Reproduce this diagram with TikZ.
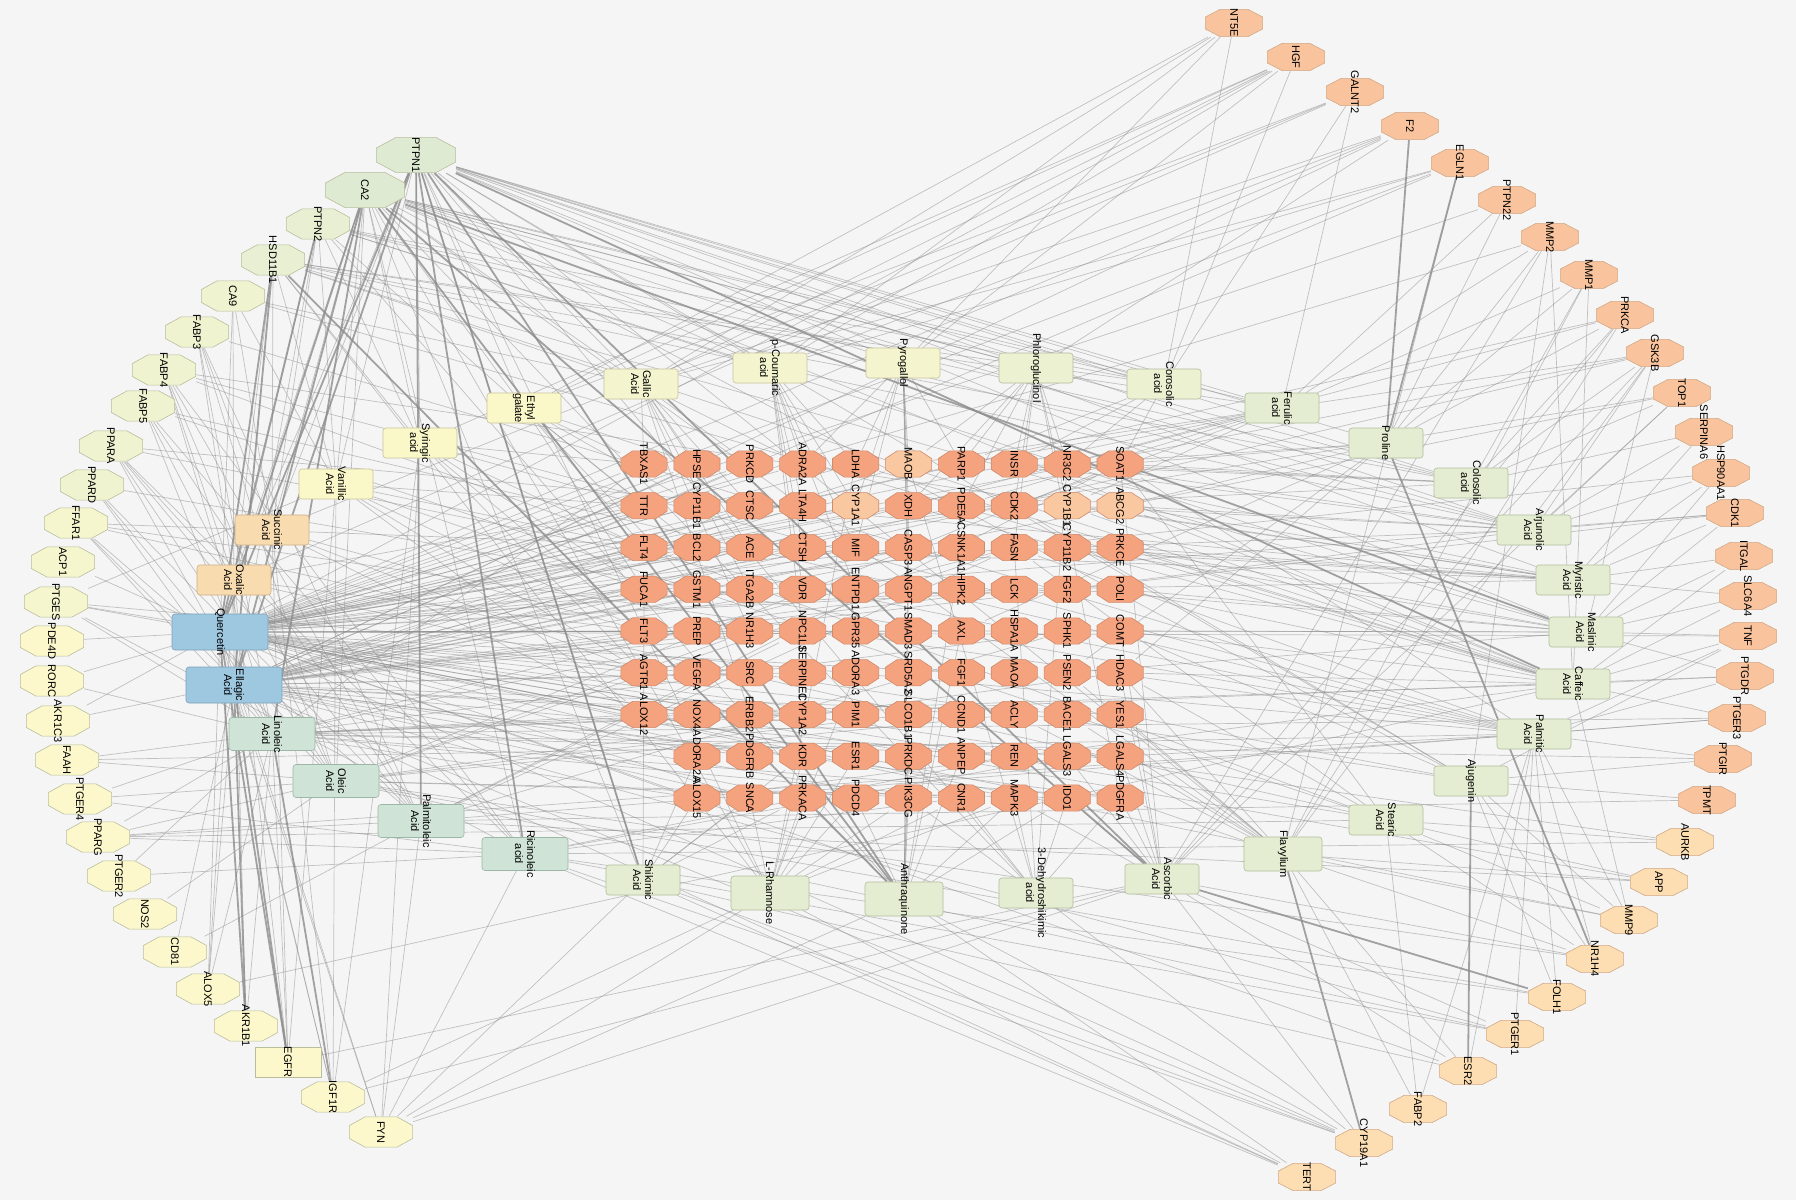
\documentclass[tikz,border=0pt]{standalone}
\usepackage{fontspec}
\setmainfont{Liberation Sans}
\pgfdeclarelayer{back}
\pgfdeclarelayer{bg}
\pgfsetlayers{back,bg,main}
\definecolor{bgc}{HTML}{F5F5F5}
\definecolor{tg}{HTML}{F5A27F}
\definecolor{tgd}{HTML}{CF8B6B}
\definecolor{tgl}{HTML}{F9C8A0}
\definecolor{ra}{HTML}{F9C49D}
\definecolor{rb}{HTML}{FCDEB2}
\definecolor{rd}{HTML}{D2A887}
\definecolor{lgA}{HTML}{DFEAD2}
\definecolor{lgB}{HTML}{E8EFD2}
\definecolor{lgC}{HTML}{EFF3D0}
\definecolor{lgD}{HTML}{F5F6CE}
\definecolor{lgE}{HTML}{FCF8CB}
\definecolor{lgd}{HTML}{B9BE9C}
\definecolor{cb}{HTML}{9EC7E0}
\definecolor{cbd}{HTML}{7EA2BB}
\definecolor{cm}{HTML}{CFE3D6}
\definecolor{cmd}{HTML}{9CB7A7}
\definecolor{cg}{HTML}{E4EDD1}
\definecolor{cgd}{HTML}{B1BD9D}
\definecolor{cg2}{HTML}{ECF1D2}
\definecolor{cy2}{HTML}{F4F5CF}
\definecolor{cy}{HTML}{FAF7C9}
\definecolor{cyd}{HTML}{C8C49C}
\definecolor{co}{HTML}{F8DBAF}
\definecolor{cod}{HTML}{CDAE86}
\definecolor{edgec}{HTML}{8C8C8C}
\newcommand\octpath[2]{([xshift=#1,yshift=-0.4pt]path picture bounding box.north west) -- ([xshift=-#1,yshift=-0.4pt]path picture bounding box.north east) -- ([xshift=-0.4pt,yshift=-#2]path picture bounding box.north east) -- ([xshift=-0.4pt,yshift=#2]path picture bounding box.south east) -- ([xshift=-#1,yshift=0.4pt]path picture bounding box.south east) -- ([xshift=#1,yshift=0.4pt]path picture bounding box.south west) -- ([xshift=0.4pt,yshift=#2]path picture bounding box.south west) -- ([xshift=0.4pt,yshift=-#2]path picture bounding box.north west) -- cycle}
\tikzset{
  ofill/.code={\def\ofc{#1}}, odraw/.code={\def\odc{#1}},
  ocx/.code={\def\ocxv{#1}}, ocy/.code={\def\ocyv{#1}},
  oct/.style={rectangle, inner sep=0pt, draw=none,
    path picture={\path[fill=\ofc, draw=\odc, line width=0.6pt] \octpath{\ocxv}{\ocyv};}},
  gnode/.style={oct, minimum width=47pt, minimum height=27pt, ofill=tg, odraw=tgd, ocx=12pt, ocy=8pt},
  hl MAOB/.style={ofill=tgl}, hl CYP1A1/.style={ofill=tgl}, hl CYP1B1/.style={ofill=tgl}, hl ABCG2/.style={ofill=tgl},
  lnode/.style={oct, minimum width=64pt, minimum height=31pt, odraw=lgd, ocx=16pt, ocy=9pt},
  bignode/.style={oct, minimum width=80pt, minimum height=36pt, odraw=lgd, ocx=20pt, ocy=11pt},
  rectnode/.style={rectangle, minimum width=66pt, minimum height=30pt, inner sep=0pt, draw=lgd, line width=0.6pt},
  rnode/.style={oct, minimum width=58pt, minimum height=28pt, odraw=rd, ocx=15pt, ocy=8pt},
  lbl/.style={rotate=-90, inner sep=0pt, text=black, font=\fontsize{11}{12}\selectfont},
  clbl/.style={lbl, align=center},
  comp/.style={rectangle, rounded corners=3pt, minimum width=74pt, minimum height=30pt, inner sep=0pt, line width=0.6pt},
  cB/.style={comp, fill=cb, draw=cbd, minimum width=96pt, minimum height=36pt},
  cM/.style={comp, fill=cm, draw=cmd, minimum width=86pt, minimum height=33pt},
  cG/.style={comp, fill=cg, draw=cgd},
  cGb/.style={cG, minimum width=78pt, minimum height=34pt},
  cG2/.style={comp, fill=cg2, draw=cgd},
  cY2/.style={comp, fill=cy2, draw=cyd},
  cY/.style={comp, fill=cy, draw=cyd},
  cO/.style={comp, fill=co, draw=cod},
  edge/.style={draw=edgec, line width=0.7pt, opacity=0.5},
  edgeT/.style={draw=edgec, line width=1.8pt, opacity=0.8},
}
\begin{document}
\begin{tikzpicture}[x=1pt,y=-1pt]
\useasboundingbox (0,0) rectangle (1796,1200);
\begin{pgfonlayer}{back}
\fill[bgc] (0,0) rectangle (1796,1200);
\end{pgfonlayer}
% ---------- target grid ----------
\foreach \row [count=\j from 0] in {
 {TBXAS1,HPSE,PRKCD,ADRA2A,LDHA,MAOB,PARP1,INSR,NR3C2,SOAT1},
 {TTR,CYP11B1,CTSC,LTA4H,CYP1A1,XDH,PDE5A,CDK2,CYP1B1,ABCG2},
 {FLT4,BCL2,ACE,CTSH,MIF,CASP3,CSNK1A1,FASN,CYP11B2,PRKCE},
 {FUCA1,GSTM1,ITGA2B,VDR,ENTPD1,ANGPT1,HIPK2,LCK,FGF2,POLI},
 {FLT3,PREP,NR1H3,NPC1L1,GPR35,SMAD3,AXL,HSPA1A,SPHK1,COMT},
 {AGTR1,VEGFA,SRC,SERPINE1,ADORA3,SRD5A2,FGF1,MAOA,PSEN2,HDAC3},
 {ALOX12,NOX4,ERBB2,CYP1A2,PIM1,SLCO1B1,CCND1,ACLY,BACE1,YES1}}{
  \foreach \g [count=\i from 0] in \row {
    \node[gnode, hl \g/.try, label={[lbl]center:\g}] (\g) at ({644+52.9*\i},{464+41.75*\j}) {};
  }
}
\foreach \row [count=\j from 7] in {
 {ADORA2A,PDGFRB,KDR,ESR1,PRKDC,ANPEP,REN,LGALS3,LGALS4},
 {ALOX15,SNCA,PRKACA,PDCD4,PIK3CG,CNR1,MAPK3,IDO1,PDGFRA}}{
  \foreach \g [count=\i from 1] in \row {
    \node[gnode, label={[lbl]center:\g}] (\g) at ({644+52.9*\i},{464+41.75*\j}) {};
  }
}
% ---------- left ring ----------
\node[bignode, ofill=lgA, label={[lbl]center:PTPN1}] (PTPN1) at (416,155) {};
\node[bignode, ofill=lgA, label={[lbl]center:CA2}] (CA2) at (365,190) {};
\foreach \n/\x/\y/\c in {PTPN2/318/224/lgB, HSD11B1/273/260/lgB, CA9/233/296/lgC,
  FABP3/197/332/lgC, FABP4/164/370/lgC, FABP5/143/406/lgC, PPARA/111/446/lgC,
  PPARD/92/485/lgC, FFAR1/76/523/lgD, ACP1/63/562/lgD, PTGES/56/602/lgD,
  PDE4D/52/641/lgE, RORC/52/681/lgE, AKR1C3/58/721/lgE, FAAH/67/760/lgE,
  PTGER4/80/799/lgE, PPARG/98/837/lgE, PTGER2/119/876/lgE, NOS2/145/914/lgE,
  CD81/175/952/lgE, ALOX5/208/989/lgE, AKR1B1/246/1026/lgE, IGF1R/333/1097/lgE,
  FYN/381/1132/lgE}{
  \node[lnode, ofill=\c, label={[lbl]center:\n}] (\n) at (\x,\y) {};
}
\node[rectnode, fill=lgE, label={[lbl]center:EGFR}] (EGFR) at (288,1062) {};
% ---------- right ring ----------
\foreach \n/\x/\y/\c in {NT5E/1234/23/ra, HGF/1296/57/ra, GALNT2/1355/92/ra,
  F2/1410/126/ra, EGLN1/1460/163/ra, PTPN22/1507/200/ra, MMP2/1550/237/ra,
  MMP1/1589/275/ra, PRKCA/1625/315/ra, GSK3B/1655/353/ra, TOP1/1682/393/ra,
  SERPINA6/1704/432/ra, HSP90AA1/1721/473/ra, CDK1/1735/513/ra, ITGAL/1744/556/ra,
  SLC6A4/1748/596/ra, TNF/1748/636/ra, PTGDR/1745/676/ra, PTGER3/1737/718/ra,
  PTGIR/1723/759/ra, TPMT/1707/800/ra, AURKB/1685/842/rb, APP/1659/882/rb,
  MMP9/1629/920/rb, NR1H4/1595/959/rb, FOLH1/1557/997/rb, PTGER1/1515/1034/rb,
  ESR2/1468/1071/rb, FABP2/1418/1109/rb, CYP19A1/1364/1143/rb, TERT/1307/1177/rb}{
  \node[rnode, ofill=\c, label={[lbl]center:\n}] (\n) at (\x,\y) {};
}
% ---------- compounds ----------
\foreach \n/\x/\y/\st/\tx in {
  quer/220/632/cB/Quercetin, ella/234/685/cB/{Ellagic\\Acid},
  lino/272/734/cM/{Linoleic\\Acid}, olei/336/781/cM/{Oleic\\Acid},
  palo/421/821/cM/{Palmitoleic\\Acid}, rici/525/854/cM/{Ricinoleic\\acid},
  shik/643/880/cG/{Shikimic\\Acid}, rham/770/893/cGb/L-Rhamnose,
  anth/904/899/cGb/Anthraquinone, dehy/1036/893/cG/{3-Dehydroshikimic\\acid},
  asco/1162/879/cG/{Ascorbic\\Acid}, flav/1283/854/cGb/Flavylium,
  stea/1386/820/cG/{Stearic\\Acid}, ajug/1471/781/cG/Ajugenin,
  palm/1534/734/cG/{Palmitic\\Acid}, caff/1573/684/cG/{Caffeic\\Acid},
  masl/1586/632/cG/{Maslinic\\Acid}, myri/1573/580/cG/{Myristic\\Acid},
  arju/1534/530/cG/{Arjunolic\\Acid}, colo/1471/483/cG/{Colosolic\\acid},
  prol/1386/443/cG/Proline, feru/1282/408/cG/{Ferulic\\acid},
  coro/1164/384/cG2/{Corosolic\\acid}, phlo/1036/368/cG2/Phloroglucinol,
  pyro/903/363/cY2/Pyrogallol, couma/770/368/cY2/{p-Coumaric\\acid},
  gall/641/384/cY2/{Gallic\\Acid}, ethy/524/408/cY/{Ethyl\\galate},
  syri/420/443/cY/{Syringic\\acid}, vani/336/484/cY/{Vanillic\\Acid},
  succ/272/530/cO/{Succinic\\Acid}, oxal/234/580/cO/{Oxalic\\Acid}}{
  \node[\st, label={[clbl]center:{\tx}}] (\n) at (\x,\y) {};
}
% ---------- edges ----------
\begin{pgfonlayer}{bg}
\foreach \s/\ts in {
 quer/{TBXAS1,HPSE,PRKCD,ADRA2A,LDHA,TTR,CYP11B1,CTSC,FLT4,BCL2,ACE,FUCA1,GSTM1,ITGA2B,FLT3,PREP,AGTR1,VEGFA,SRC,ALOX12,NOX4,ERBB2,ADORA2A,PDGFRB,ALOX15,SNCA,CYP1A1,XDH,CASP3,MIF,ESR1,PIM1,CDK2,INSR,PARP1,SOAT1,HSPA1A,MAPK3,IDO1,AXL,LCK,FGF2,FGF1,CCND1,CA9,ACP1,PTGES,PDE4D,RORC,AKR1C3,ALOX5,IGF1R,FYN,F2,PTPN22,HGF,GSK3B,CDK1,TOP1,HSP90AA1,MMP2,MMP9,APP,AURKB,CYP19A1,ESR2,TNF,PRKCA,EGLN1},
 ella/{PRKCD,HPSE,CTSC,LTA4H,ACE,CTSH,BCL2,ITGA2B,VDR,NPC1L1,PREP,NR1H3,SRC,SERPINE1,ERBB2,CYP1A2,PDGFRB,KDR,PRKACA,SNCA,CASP3,MAOB,MIF,LCK,PDE5A,CSNK1A1,HIPK2,PIK3CG,REN,PDGFRA,YES1,PTPN2,CA9,IGF1R,ALOX5,FYN,CD81,EGLN1,F2,CDK1,GSK3B,PRKCA,TOP1,TERT,CYP19A1,PTGER1,AKR1C3},
 lino/{PTGES,FFAR1,PPARA,PPARD,PPARG,FABP3,FABP4,FABP5,ALOX5,PTGER2,PTGER4,FAAH,RORC,ALOX15,ALOX12,NOX4,CNR1,NR1H3,SPHK1,PDGFRA,LGALS4,TBXAS1,CYP1A2,FASN,PTGIR,PTGDR,PTGER3,AKR1B1,EGFR},
 olei/{FFAR1,PPARA,PPARD,PPARG,FABP3,FABP4,FABP5,PTGER4,FAAH,NOS2,CNR1,SOAT1,FASN,ACLY,NR1H3,SLCO1B1,HDAC3,IDO1,PTGER1,FOLH1,NR1H4,CA2},
 palo/{FABP3,FABP4,FABP5,PPARA,PPARD,PPARG,FFAR1,CD81,FYN,FASN,SPHK1,SOAT1,NPC1L1,TPMT,PTGER3,APP},
 rici/{FABP4,FABP5,PPARA,PPARG,PTGER2,PTGER4,PTGES,FYN,CNR1,REN,LGALS3,CYP19A1,TERT,FOLH1,PTGER1,AURKB,CA2},
 shik/{PTPN1,CA2,FUCA1,ALOX15,SNCA,PRKACA,ADORA2A,KDR,FYN,CYP19A1,ESR2,TERT},
 rham/{PTPN1,HSD11B1,SNCA,PRKACA,KDR,PDCD4,ESR1,CNR1,MAPK3,PIK3CG,ADORA3,LDHA,FYN,TERT,IGF1R,CA2},
 anth/{PTPN2,PRKACA,PDCD4,PIK3CG,PRKDC,MAPK3,ANPEP,IDO1,CASP3,AXL,CSNK1A1,SLCO1B1,XDH,CYP19A1,FYN,TERT},
 dehy/{PTPN1,PIK3CG,CNR1,MAPK3,IDO1,PDGFRA,NR3C2,FASN,CYP19A1,MAOB,CA2},
 asco/{IDO1,MAPK3,PDGFRA,LGALS4,LGALS3,HDAC3,COMT,SOAT1,PRKCA,GSK3B,MMP2,TOP1,NR1H4,PTGER1,ESR2,EGFR,FYN,CYP19A1,IGF1R},
 flav/{CA2,PTPN1,YES1,LGALS4,PDGFRA,HDAC3,BACE1,ACLY,PSEN2,EGLN1,MMP1,PRKCA,GSK3B,ESR2,FABP2,NR1H4,MMP9,APP},
 stea/{FFAR1,PPARG,FABP4,FABP5,FABP2,NR1H4,MMP9,APP,AURKB,SOAT1,FASN,HDAC3,PTGES},
 ajug/{PTPN1,MMP2,MMP9,FOLH1,TPMT,PTGIR,NR1H4,TNF,SRC,CDK2,COMT,YES1,CA2},
 palm/{FABP3,FABP4,FABP5,PPARA,PPARD,PPARG,FFAR1,PTGES,FAAH,NR1H4,FOLH1,MMP9,PTGER1,ESR2,FABP2,TNF,PTGDR,PTGIR,PTGER3,SOAT1,FASN,LGALS4},
 caff/{CA2,HSD11B1,ALOX5,ALOX12,ALOX15,TNF,PTGDR,PTGER3,ITGAL,SLC6A4,MMP9,MMP2,MMP1,PRKCE,POLI,COMT,HDAC3,CYP1B1,ABCG2,XDH,LDHA,CA9},
 masl/{PTPN1,SLC6A4,ITGAL,CDK1,HSP90AA1,PRKCE,POLI,COMT,CYP11B2,FGF2,SPHK1,PSEN2,TNF,PTGDR,HSD11B1,GSK3B,PTPN2},
 myri/{CDK1,HSP90AA1,SERPINA6,ITGAL,SLC6A4,CYP11B2,PRKCE,ABCG2,CYP1B1,FASN,LCK,INSR,FFAR1,PPARA,FABP4,PTPN1},
 arju/{PTPN1,CA2,CDK1,HSP90AA1,SERPINA6,TOP1,GSK3B,NR3C2,CYP1B1,ABCG2,CYP11B2,FGF2,INSR,HSD11B1,PTPN2},
 colo/{PTPN1,SERPINA6,TOP1,GSK3B,PRKCA,NR3C2,SOAT1,INSR,CDK2,HSD11B1,PTPN2,CA2,MMP1},
 prol/{PTPN22,MMP2,MMP1,PRKCA,NR3C2,SOAT1,ABCG2,PSEN2,AXL,HDAC3,PTPN1},
 feru/{PTPN1,CA2,GALNT2,PTPN22,MMP2,MMP1,GSK3B,NR3C2,CYP1B1,INSR,PARP1,PDE5A,CDK2,MAOB,HSD11B1},
 coro/{PTPN1,PTPN2,HSD11B1,CA2,NR3C2,SOAT1,INSR,PARP1,NT5E,HGF,GALNT2},
 phlo/{PTPN1,CA2,INSR,PARP1,MAOB,XDH,PDE5A,CDK2,NR3C2,CYP1B1,FASN,PDGFRA,F2},
 pyro/{PTPN1,CA2,LDHA,MAOB,XDH,CYP1A1,CASP3,MIF,PARP1,ADRA2A,HGF,NT5E,ANGPT1,SMAD3},
 couma/{PTPN1,CA2,PTPN2,ADRA2A,LTA4H,CTSH,VDR,NPC1L1,LDHA,CYP1A1,MIF,ENTPD1,NT5E,HGF,F2,EGLN1},
 gall/{PTPN1,CA2,CA9,HSD11B1,PRKCD,ADRA2A,CTSC,ACE,ITGA2B,NR1H3,ERBB2,TBXAS1,HPSE,NT5E,HGF,EGLN1,F2},
 ethy/{PTPN1,CA2,PTPN2,TBXAS1,HPSE,TTR,CYP11B1,FLT4,BCL2,FUCA1,GSTM1,HGF,NT5E,GALNT2},
 syri/{PTPN1,CA2,PTPN2,HSD11B1,TBXAS1,TTR,FLT4,FUCA1,FLT3,AGTR1,FYN,IGF1R,HGF},
 vani/{PTPN1,CA2,PTPN2,HSD11B1,CA9,TTR,FLT4,FUCA1,FLT3,AGTR1,ALOX12,EGFR,IGF1R,PTGES},
 succ/{PTPN1,CA2,PTPN2,HSD11B1,CA9,FABP3,EGFR,IGF1R,FLT3,AGTR1,ALOX12,GALNT2},
 oxal/{PTPN1,CA2,PTPN2,HSD11B1,FABP3,FABP4,PPARA,EGFR,AKR1B1,ALOX5,TTR,FLT3,AGTR1,GALNT2}}{
  \foreach \t in \ts { \draw[edge] (\s) -- (\t); }
}
\foreach \a/\b in {PTPN1/quer, PTPN1/ella, CA2/quer, CA2/ella, CA2/lino, PTPN1/palo,
  PTPN1/rici, PTPN1/asco, PTPN1/anth, CA2/anth, CA2/asco, F2/prol, EGLN1/prol,
  ella/AKR1B1, ella/EGFR, lino/IGF1R, quer/EGFR, quer/AKR1B1, PTPN1/caff, CA2/masl,
  HSD11B1/anth, PTPN2/quer, HSD11B1/ella, prol/NR1H4, flav/CYP19A1, ajug/ESR2,
  asco/FOLH1, HSD11B1/quer, PTPN1/shik}{
  \draw[edgeT] (\a) -- (\b);
}
\end{pgfonlayer}
\end{tikzpicture}
\end{document}
